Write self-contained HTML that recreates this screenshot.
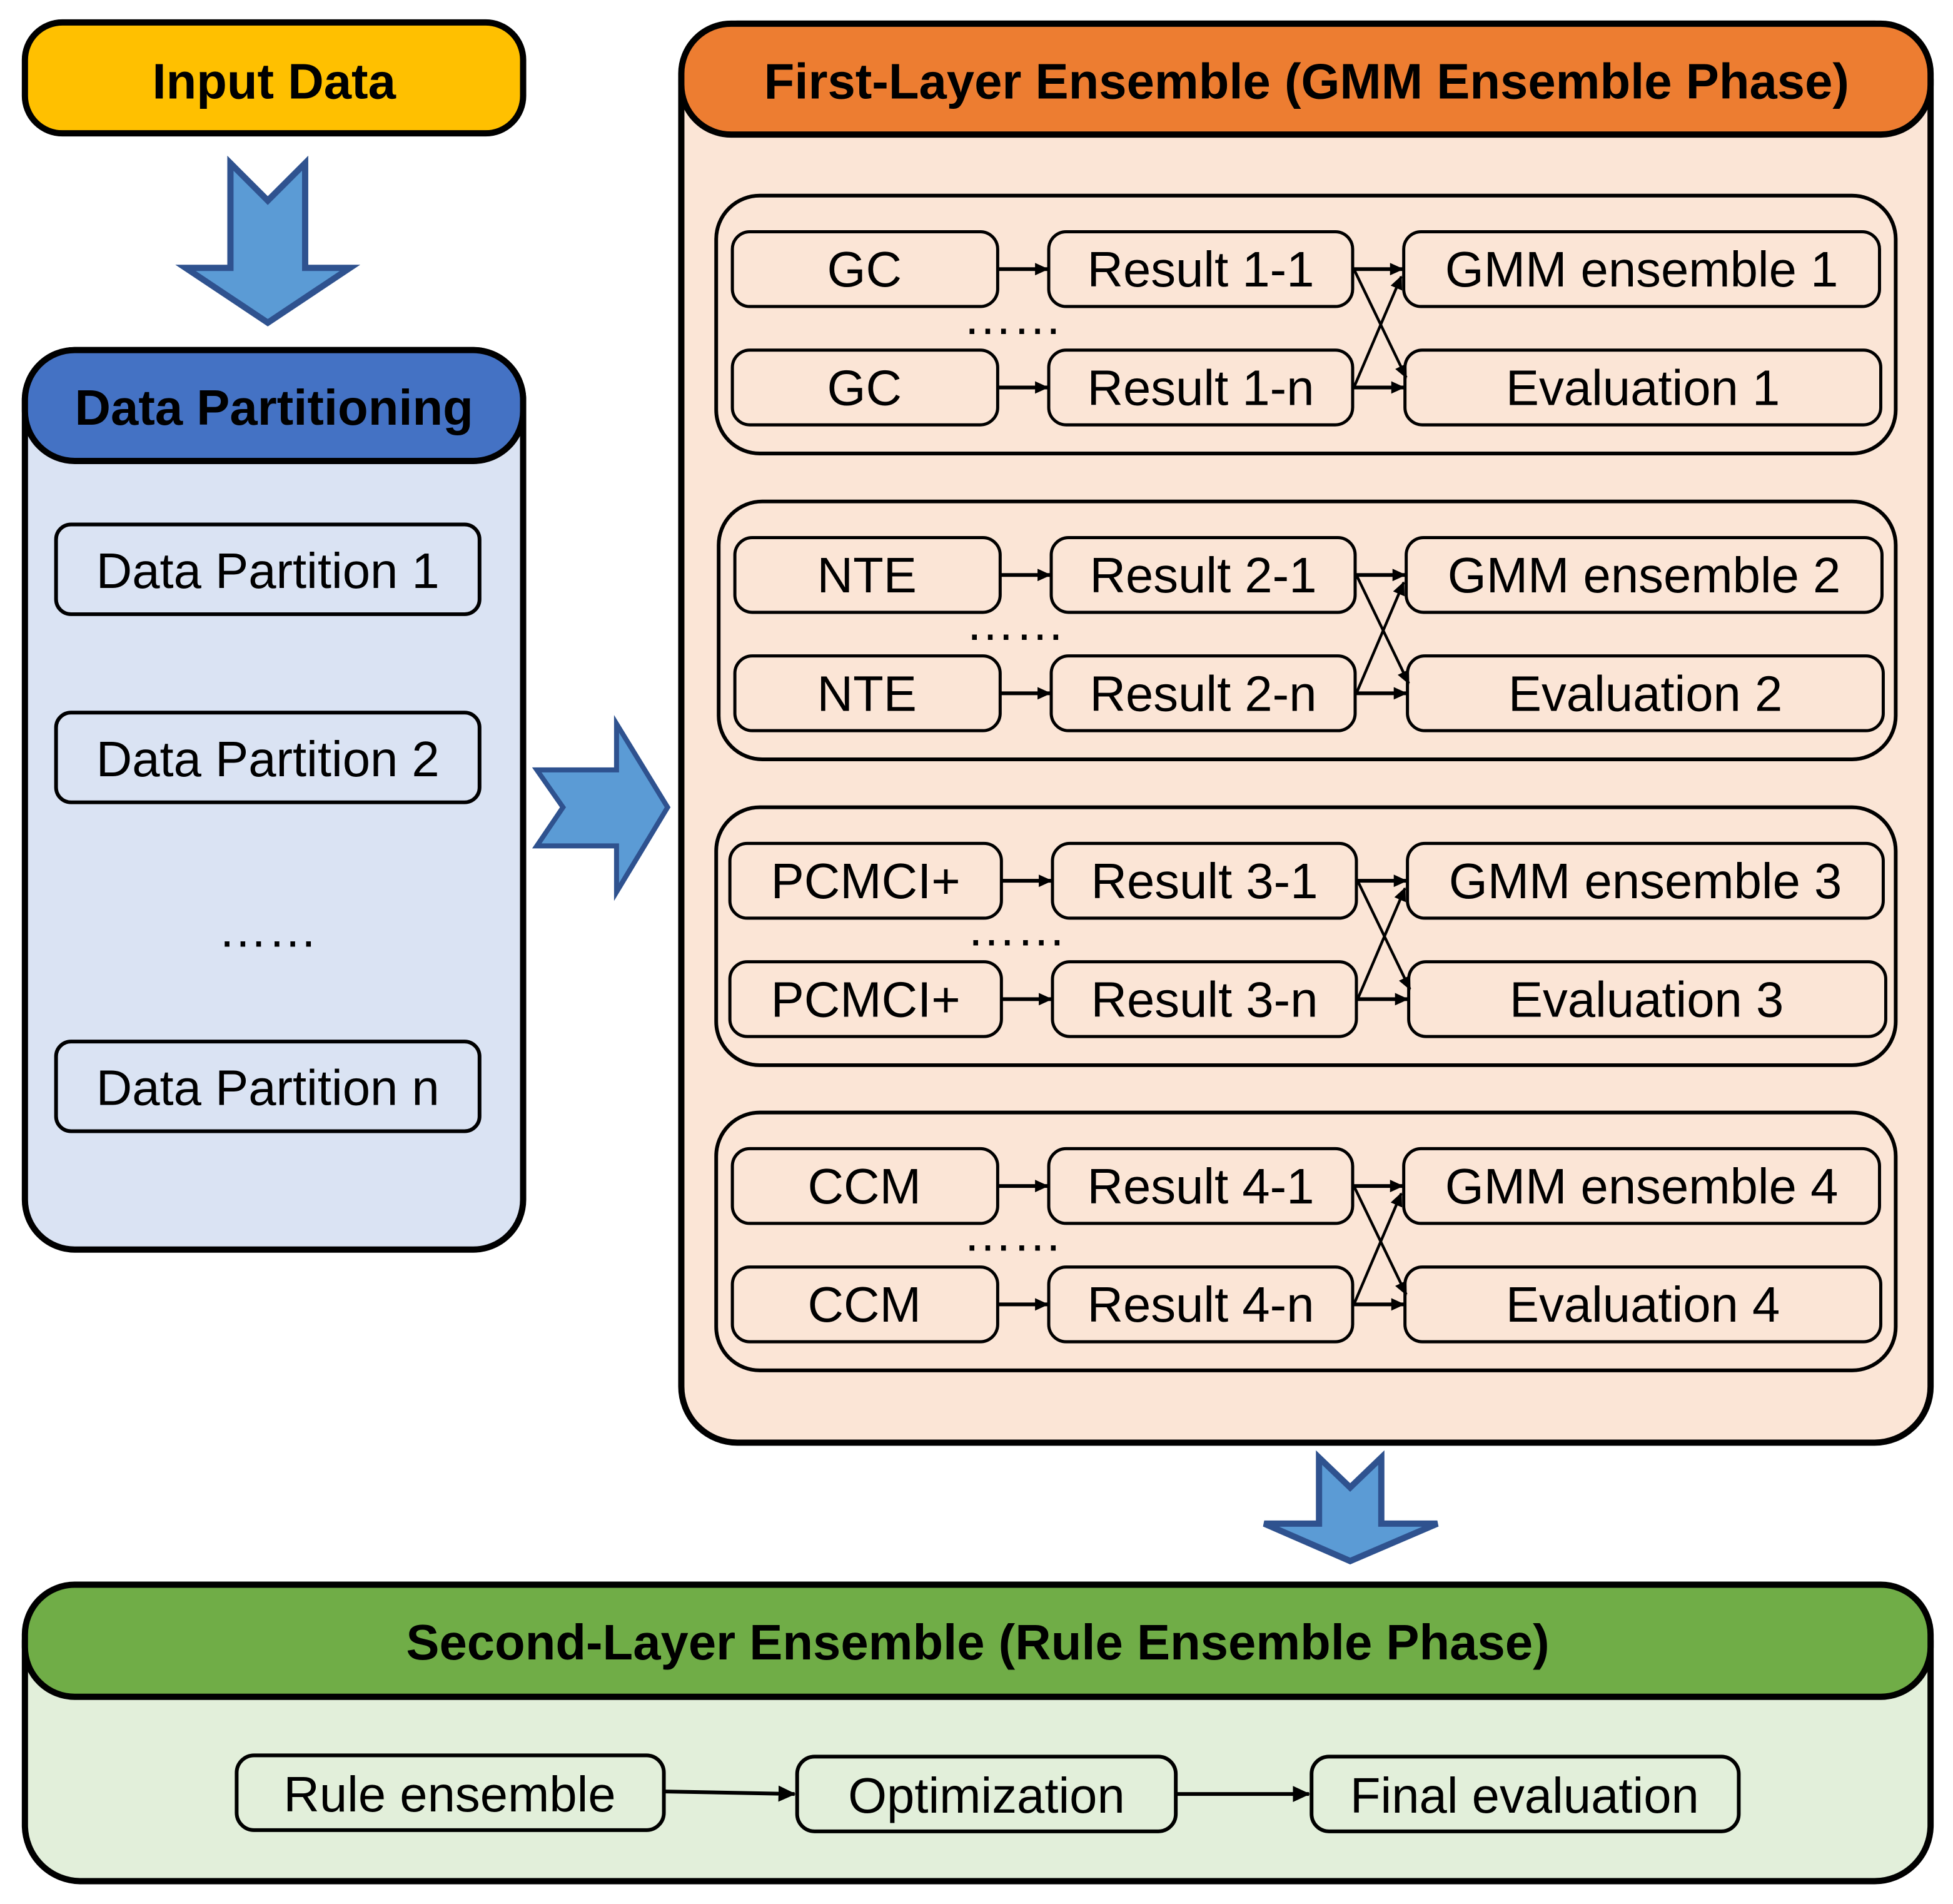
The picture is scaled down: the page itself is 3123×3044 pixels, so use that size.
<!DOCTYPE html>
<html><head><meta charset="utf-8"><style>html,body{margin:0;padding:0;background:#fff}svg{display:block}</style></head><body>
<svg xmlns="http://www.w3.org/2000/svg" width="3123" height="3044" viewBox="0 0 1568 1528.3" font-family="'Liberation Sans', Arial, sans-serif">
<defs>
<marker id="ah" markerWidth="11" markerHeight="10" refX="10" refY="5" orient="auto" markerUnits="userSpaceOnUse"><path d="M0,0 L11,5 L0,10 z" fill="#000"/></marker>
<marker id="ah2" markerWidth="14" markerHeight="13" refX="13" refY="6.5" orient="auto" markerUnits="userSpaceOnUse"><path d="M0,0 L14,6.5 L0,13 z" fill="#000"/></marker>
</defs>
<rect width="1568" height="1528.3" fill="#fff"/>

<rect x="20" y="18" width="400" height="89" rx="30" fill="#FFC000" stroke="#000" stroke-width="5"/>
<text x="220" y="79" font-size="40" font-weight="bold" text-anchor="middle">Input Data</text>

<polygon points="185,131 215,161 245,131 245,215 281,215 215,259 149,215 185,215" fill="#5B9BD5" stroke="#2F528F" stroke-width="5"/>

<rect x="20" y="281" width="400" height="722" rx="40" fill="#DAE3F3" stroke="#000" stroke-width="5"/>
<rect x="20" y="281" width="400" height="89" rx="40" fill="#4472C4" stroke="#000" stroke-width="5"/>
<text x="220" y="341" font-size="40" font-weight="bold" text-anchor="middle">Data Partitioning</text>
<g stroke="#000">
<rect x="45" y="421" width="340" height="72" rx="12" fill="#DAE3F3" stroke-width="3"/>
<rect x="45" y="572" width="340" height="72" rx="12" fill="#DAE3F3" stroke-width="3"/>
<rect x="45" y="836" width="340" height="72" rx="12" fill="#DAE3F3" stroke-width="3"/>
</g>
<g font-size="40" text-anchor="middle">
<text x="215" y="472">Data Partition 1</text>
<text x="215" y="623">Data Partition 2</text>
<text x="215" y="760">……</text>
<text x="215" y="887">Data Partition n</text>
</g>

<polygon points="431,618 495,618 495,581 536,648 495,716 495,679 431,679 452,648" fill="#5B9BD5" stroke="#2F528F" stroke-width="4"/>

<rect x="547" y="19" width="1003" height="1139" rx="45" fill="#FBE5D6" stroke="#000" stroke-width="5"/>
<rect x="547" y="19" width="1003" height="89" rx="40" fill="#ED7D31" stroke="#000" stroke-width="5"/>
<text x="1049" y="79" font-size="40" font-weight="bold" text-anchor="middle">First-Layer Ensemble (GMM Ensemble Phase)</text>

<g font-size="40" text-anchor="middle">
<g>
<rect x="575" y="157" width="947" height="207" rx="35" fill="none" stroke="#000" stroke-width="3"/>
<rect x="588" y="186" width="213" height="60" rx="14" fill="#FBE5D6" stroke="#000" stroke-width="2.5"/>
<rect x="842" y="186" width="244" height="60" rx="14" fill="#FBE5D6" stroke="#000" stroke-width="2.5"/>
<rect x="1127" y="186" width="382" height="60" rx="14" fill="#FBE5D6" stroke="#000" stroke-width="2.5"/>
<rect x="588" y="281" width="213" height="60" rx="14" fill="#FBE5D6" stroke="#000" stroke-width="2.5"/>
<rect x="842" y="281" width="244" height="60" rx="14" fill="#FBE5D6" stroke="#000" stroke-width="2.5"/>
<rect x="1128" y="281" width="382" height="60" rx="14" fill="#FBE5D6" stroke="#000" stroke-width="2.5"/>
<text x="694" y="230">GC</text><text x="964" y="230">Result 1-1</text><text x="1318" y="230">GMM ensemble 1</text>
<text x="694" y="325">GC</text><text x="964" y="325">Result 1-n</text><text x="1319" y="325">Evaluation 1</text>
<text x="813" y="268">……</text>
<g stroke="#000" fill="none">
<line x1="802" y1="216" x2="841" y2="216" stroke-width="3" marker-end="url(#ah)"/>
<line x1="802" y1="311" x2="841" y2="311" stroke-width="3" marker-end="url(#ah)"/>
<line x1="1087" y1="216" x2="1126" y2="216" stroke-width="3" marker-end="url(#ah)"/>
<line x1="1087" y1="311" x2="1127" y2="311" stroke-width="3" marker-end="url(#ah)"/>
<line x1="1087" y1="216" x2="1129" y2="303" stroke-width="2.2" marker-end="url(#ah)"/>
<line x1="1087" y1="311" x2="1125" y2="222" stroke-width="2.2" marker-end="url(#ah)"/>
</g>
</g>
<g transform="translate(2,245.5)">
<rect x="575" y="157" width="945" height="207" rx="35" fill="none" stroke="#000" stroke-width="3"/>
<rect x="588" y="186" width="213" height="60" rx="14" fill="#FBE5D6" stroke="#000" stroke-width="2.5"/>
<rect x="842" y="186" width="244" height="60" rx="14" fill="#FBE5D6" stroke="#000" stroke-width="2.5"/>
<rect x="1127" y="186" width="382" height="60" rx="14" fill="#FBE5D6" stroke="#000" stroke-width="2.5"/>
<rect x="588" y="281" width="213" height="60" rx="14" fill="#FBE5D6" stroke="#000" stroke-width="2.5"/>
<rect x="842" y="281" width="244" height="60" rx="14" fill="#FBE5D6" stroke="#000" stroke-width="2.5"/>
<rect x="1128" y="281" width="382" height="60" rx="14" fill="#FBE5D6" stroke="#000" stroke-width="2.5"/>
<text x="694" y="230">NTE</text><text x="964" y="230">Result 2-1</text><text x="1318" y="230">GMM ensemble 2</text>
<text x="694" y="325">NTE</text><text x="964" y="325">Result 2-n</text><text x="1319" y="325">Evaluation 2</text>
<text x="813" y="268">……</text>
<g stroke="#000" fill="none">
<line x1="802" y1="216" x2="841" y2="216" stroke-width="3" marker-end="url(#ah)"/>
<line x1="802" y1="311" x2="841" y2="311" stroke-width="3" marker-end="url(#ah)"/>
<line x1="1087" y1="216" x2="1126" y2="216" stroke-width="3" marker-end="url(#ah)"/>
<line x1="1087" y1="311" x2="1127" y2="311" stroke-width="3" marker-end="url(#ah)"/>
<line x1="1087" y1="216" x2="1129" y2="303" stroke-width="2.2" marker-end="url(#ah)"/>
<line x1="1087" y1="311" x2="1125" y2="222" stroke-width="2.2" marker-end="url(#ah)"/>
</g>
</g>
<g transform="translate(0,491)">
<rect x="575" y="157" width="947" height="207" rx="35" fill="none" stroke="#000" stroke-width="3"/>
<rect x="586" y="186" width="218" height="60" rx="14" fill="#FBE5D6" stroke="#000" stroke-width="2.5"/>
<rect x="845" y="186" width="244" height="60" rx="14" fill="#FBE5D6" stroke="#000" stroke-width="2.5"/>
<rect x="1130" y="186" width="382" height="60" rx="14" fill="#FBE5D6" stroke="#000" stroke-width="2.5"/>
<rect x="586" y="281" width="218" height="60" rx="14" fill="#FBE5D6" stroke="#000" stroke-width="2.5"/>
<rect x="845" y="281" width="244" height="60" rx="14" fill="#FBE5D6" stroke="#000" stroke-width="2.5"/>
<rect x="1131" y="281" width="383" height="60" rx="14" fill="#FBE5D6" stroke="#000" stroke-width="2.5"/>
<text x="695" y="230">PCMCI+</text><text x="967" y="230">Result 3-1</text><text x="1321" y="230">GMM ensemble 3</text>
<text x="695" y="325">PCMCI+</text><text x="967" y="325">Result 3-n</text><text x="1322" y="325">Evaluation 3</text>
<text x="816" y="268">……</text>
<g stroke="#000" fill="none">
<line x1="805" y1="216" x2="844" y2="216" stroke-width="3" marker-end="url(#ah)"/>
<line x1="805" y1="311" x2="844" y2="311" stroke-width="3" marker-end="url(#ah)"/>
<line x1="1090" y1="216" x2="1129" y2="216" stroke-width="3" marker-end="url(#ah)"/>
<line x1="1090" y1="311" x2="1130" y2="311" stroke-width="3" marker-end="url(#ah)"/>
<line x1="1090" y1="216" x2="1132" y2="303" stroke-width="2.2" marker-end="url(#ah)"/>
<line x1="1090" y1="311" x2="1128" y2="222" stroke-width="2.2" marker-end="url(#ah)"/>
</g>
</g>
<g transform="translate(0,736)">
<rect x="575" y="157" width="947" height="207" rx="35" fill="none" stroke="#000" stroke-width="3"/>
<rect x="588" y="186" width="213" height="60" rx="14" fill="#FBE5D6" stroke="#000" stroke-width="2.5"/>
<rect x="842" y="186" width="244" height="60" rx="14" fill="#FBE5D6" stroke="#000" stroke-width="2.5"/>
<rect x="1127" y="186" width="382" height="60" rx="14" fill="#FBE5D6" stroke="#000" stroke-width="2.5"/>
<rect x="588" y="281" width="213" height="60" rx="14" fill="#FBE5D6" stroke="#000" stroke-width="2.5"/>
<rect x="842" y="281" width="244" height="60" rx="14" fill="#FBE5D6" stroke="#000" stroke-width="2.5"/>
<rect x="1128" y="281" width="382" height="60" rx="14" fill="#FBE5D6" stroke="#000" stroke-width="2.5"/>
<text x="694" y="230">CCM</text><text x="964" y="230">Result 4-1</text><text x="1318" y="230">GMM ensemble 4</text>
<text x="694" y="325">CCM</text><text x="964" y="325">Result 4-n</text><text x="1319" y="325">Evaluation 4</text>
<text x="813" y="268">……</text>
<g stroke="#000" fill="none">
<line x1="802" y1="216" x2="841" y2="216" stroke-width="3" marker-end="url(#ah)"/>
<line x1="802" y1="311" x2="841" y2="311" stroke-width="3" marker-end="url(#ah)"/>
<line x1="1087" y1="216" x2="1126" y2="216" stroke-width="3" marker-end="url(#ah)"/>
<line x1="1087" y1="311" x2="1127" y2="311" stroke-width="3" marker-end="url(#ah)"/>
<line x1="1087" y1="216" x2="1129" y2="303" stroke-width="2.2" marker-end="url(#ah)"/>
<line x1="1087" y1="311" x2="1125" y2="222" stroke-width="2.2" marker-end="url(#ah)"/>
</g>
</g>
</g>

<polygon points="1059,1170 1084,1194 1109,1170 1109,1223 1154,1223 1084,1253 1015,1223 1059,1223" fill="#5B9BD5" stroke="#2F528F" stroke-width="5"/>

<rect x="20" y="1272" width="1530" height="238" rx="45" fill="#E2EFDA" stroke="#000" stroke-width="5"/>
<rect x="20" y="1272" width="1530" height="90" rx="40" fill="#70AD47" stroke="#000" stroke-width="5"/>
<text x="785" y="1332" font-size="40" font-weight="bold" text-anchor="middle">Second-Layer Ensemble (Rule Ensemble Phase)</text>
<g stroke="#000" stroke-width="3">
<rect x="190" y="1409" width="343" height="60" rx="14" fill="#E2EFDA"/>
<rect x="640" y="1410" width="304" height="60" rx="14" fill="#E2EFDA"/>
<rect x="1053" y="1410" width="343" height="60" rx="14" fill="#E2EFDA"/>
<line x1="534" y1="1438" x2="638" y2="1440" marker-end="url(#ah2)"/>
<line x1="945" y1="1440" x2="1051" y2="1440" marker-end="url(#ah2)"/>
</g>
<g font-size="40" text-anchor="middle">
<text x="361" y="1454">Rule ensemble</text>
<text x="792" y="1455">Optimization</text>
<text x="1224" y="1455">Final evaluation</text>
</g>
</svg>
</body></html>
